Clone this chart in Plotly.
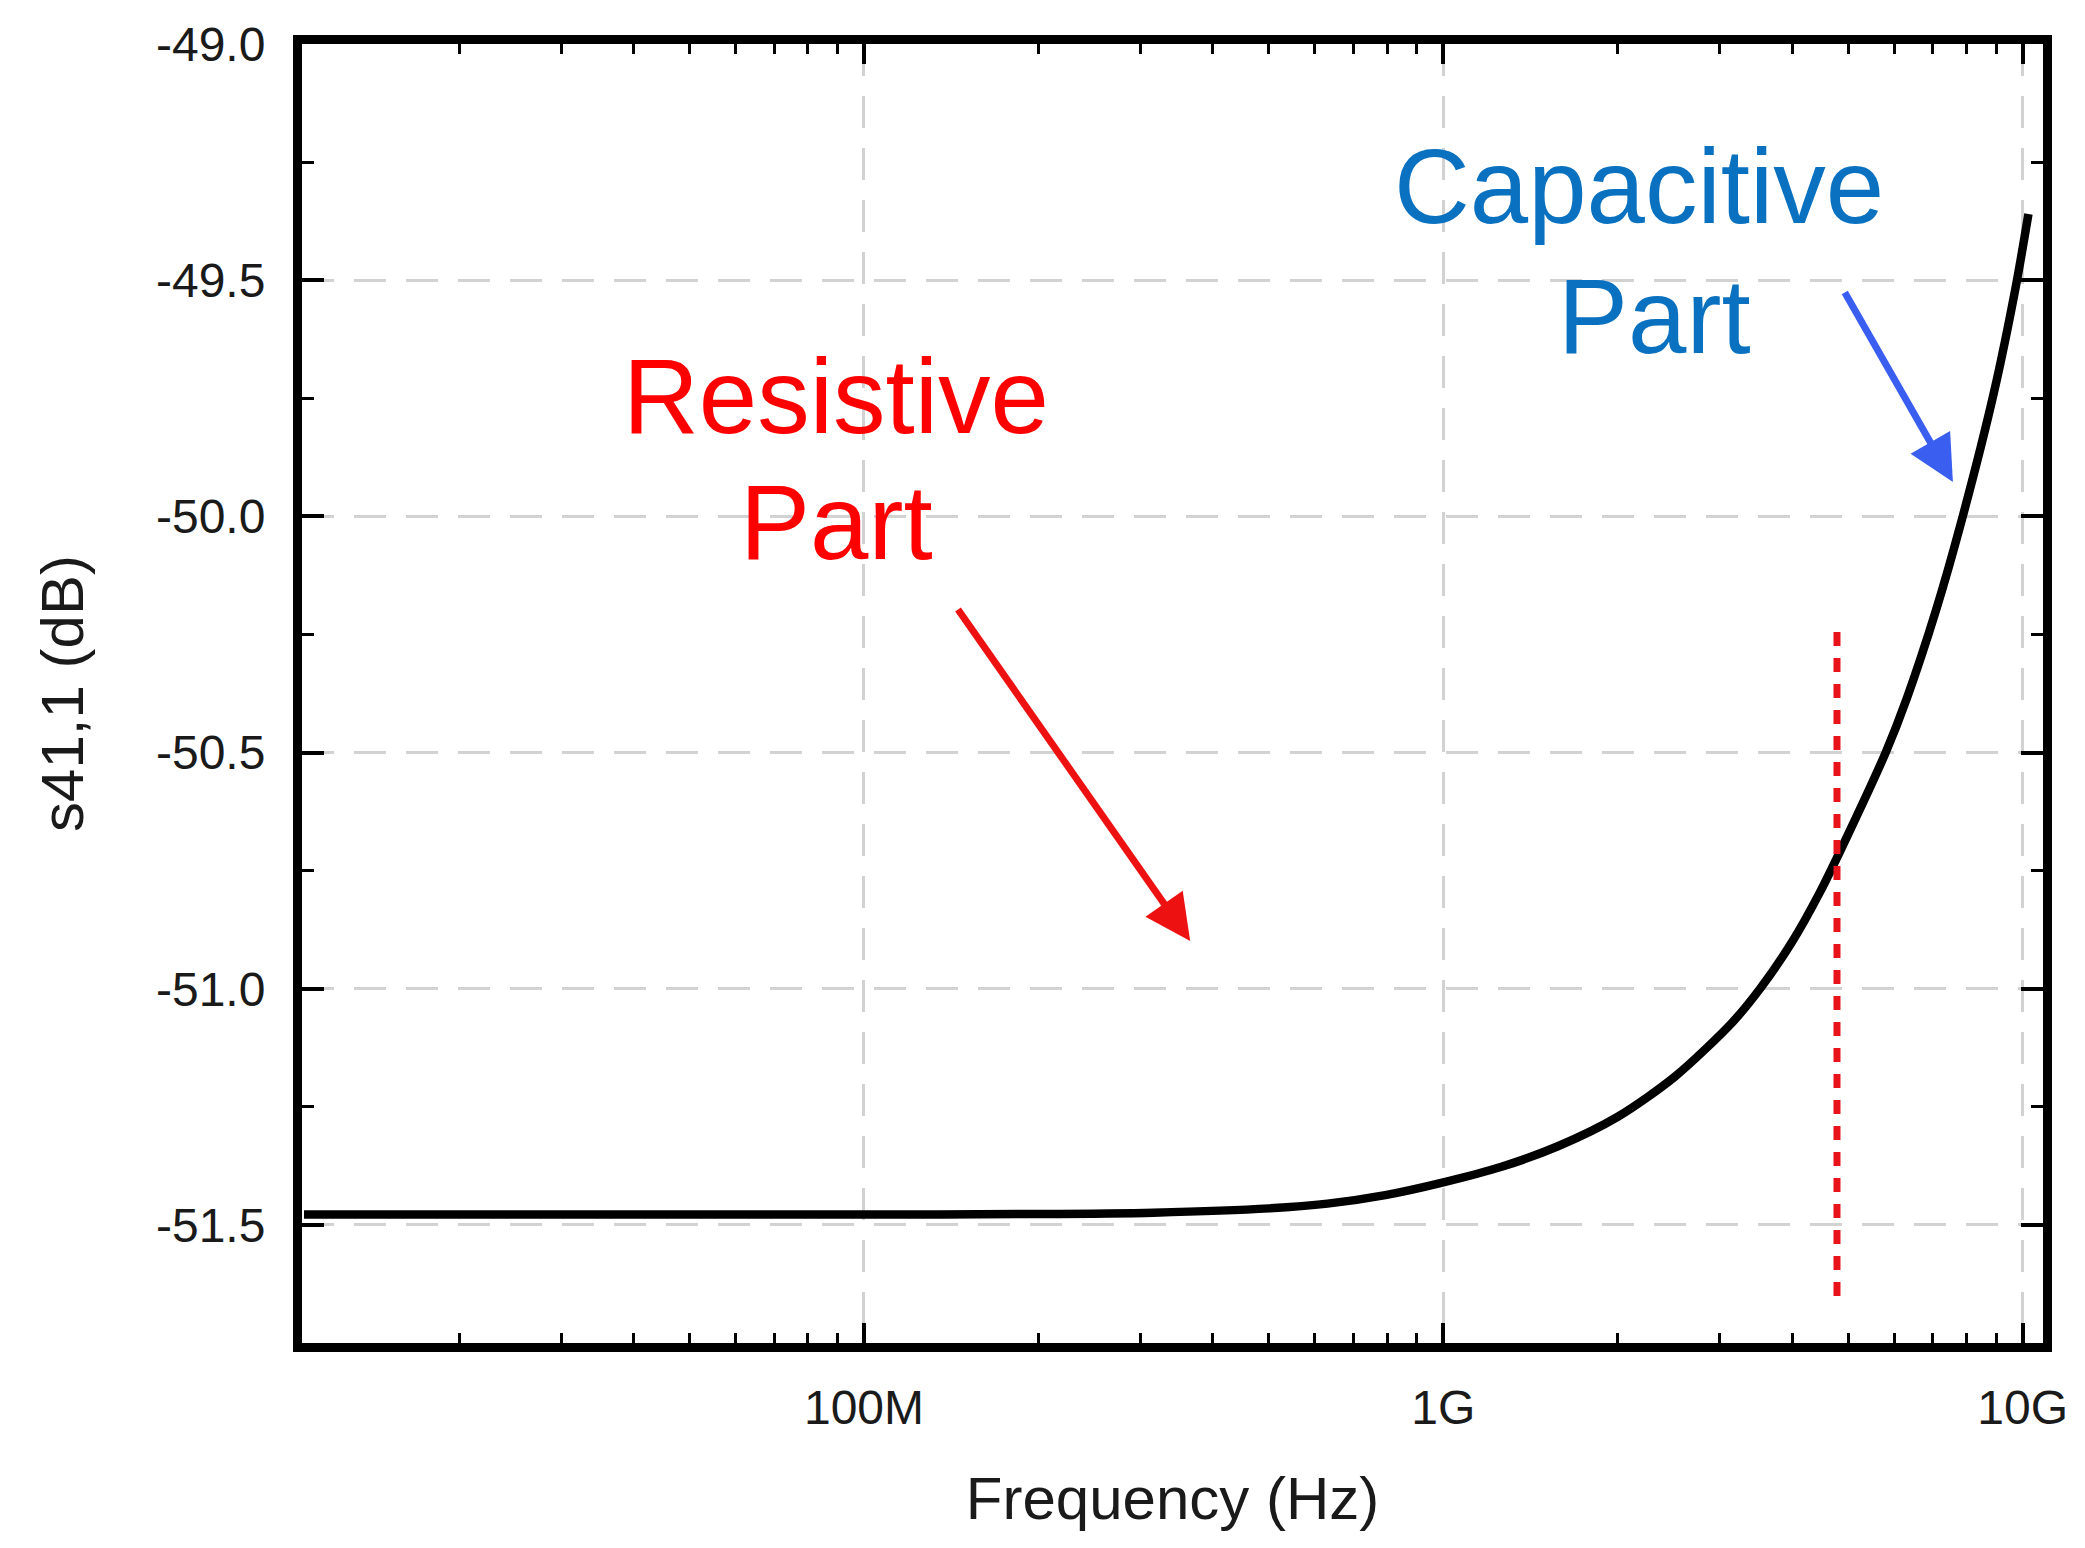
import plotly.graph_objects as go

# ---- data ----
freq_hz = [1.08e7, 3.16e7, 1.0e8, 2.0e8, 3.16e8, 5.01e8, 6.31e8, 7.94e8,
           1.0e9, 1.26e9, 1.58e9, 2.0e9, 2.51e9, 3.16e9, 3.52e9, 3.98e9,
           4.47e9, 5.01e9, 5.8e9, 6.31e9, 7.08e9, 7.82e9, 8.91e9, 9.72e9,
           1.023e10]
s41_db = [-51.478, -51.478, -51.478, -51.477, -51.474, -51.465, -51.455, -51.437,
          -51.41, -51.377, -51.333, -51.271, -51.186, -51.07, -51.0, -50.905,
          -50.795, -50.67, -50.5, -50.385, -50.2, -50.015, -49.74, -49.516,
          -49.36]

marker_freq = [4.78e9, 4.78e9]
marker_db = [-50.245, -51.66]

y_tick_vals = [-49.0, -49.5, -50.0, -50.5, -51.0, -51.5]
y_tick_text = ["-49.0", "-49.5", "-50.0", "-50.5", "-51.0", "-51.5"]

x_title = "Frequency (Hz)"
y_title = "s41,1 (dB)"
resistive_lines = ["Resistive", "Part"]
capacitive_lines = ["Capacitive", "Part"]

FONT = "Liberation Sans, Arial, sans-serif"

fig = go.Figure()
fig.add_trace(go.Scatter(x=freq_hz, y=s41_db, mode="lines",
                         line=dict(color="black", width=8.5, shape="spline", smoothing=0.8),
                         showlegend=False))
fig.add_trace(go.Scatter(x=marker_freq, y=marker_db, mode="lines",
                         line=dict(color="#e8131b", width=7, dash="14px,12px"),
                         showlegend=False))

red = "#ff0000"
blue_txt = "#0a71c1"
blue_arrow = "#3a5ef0"

ann = []
ann.append(dict(x=7.952, y=-49.747, text=resistive_lines[0], showarrow=False,
                font=dict(family=FONT, size=105, color=red), xanchor="center", yanchor="middle"))
ann.append(dict(x=7.952, y=-50.013, text=resistive_lines[1], showarrow=False,
                font=dict(family=FONT, size=105, color=red), xanchor="center", yanchor="middle"))
ann.append(dict(x=9.338, y=-49.302, text=capacitive_lines[0], showarrow=False,
                font=dict(family=FONT, size=105, color=blue_txt), xanchor="center", yanchor="middle"))
ann.append(dict(x=9.365, y=-49.576, text=capacitive_lines[1], showarrow=False,
                font=dict(family=FONT, size=105, color=blue_txt), xanchor="center", yanchor="middle"))
ann.append(dict(x=8.563, y=-50.899, ax=8.1605, ay=-50.194, axref="x", ayref="y",
                text="", showarrow=True, arrowhead=2, arrowsize=1.3, arrowwidth=7,
                arrowcolor="#ee1111", standoff=0))
ann.append(dict(x=9.8795, y=-49.927, ax=9.6914, ay=-49.523, axref="x", ayref="y",
                text="", showarrow=True, arrowhead=2, arrowsize=1.3, arrowwidth=7,
                arrowcolor=blue_arrow, standoff=0))
for a in ann:
    a.setdefault("xref", "x")
    a.setdefault("yref", "y")

grid_color = "#d2d2d2"

fig.update_layout(
    width=2085, height=1548,
    margin=dict(l=302, r=42, t=44, b=205),
    paper_bgcolor="white", plot_bgcolor="white",
    font=dict(family=FONT, color="#1a1a1a"),
    annotations=ann,
    showlegend=False,
)

fig.update_xaxes(
    type="log", range=[7.03, 10.035],
    dtick=1, tickformat="~s",
    showline=True, linecolor="black", linewidth=9, mirror="allticks",
    ticks="inside", ticklen=20, tickwidth=4, tickcolor="black",
    minor=dict(ticks="inside", ticklen=10, tickwidth=3, tickcolor="black",
               dtick="D1", showgrid=False),
    showgrid=True, gridcolor=grid_color, gridwidth=3, griddash="32px,20px",
    zeroline=False,
    tickfont=dict(family=FONT, size=48, color="#1a1a1a"),
    ticklabelstandoff=14,
    title=dict(text=x_title, font=dict(family=FONT, size=60, color="#1a1a1a"), standoff=48),
)
fig.update_yaxes(
    range=[-51.75, -49.0],
    tickmode="array", tickvals=y_tick_vals, ticktext=y_tick_text,
    showline=True, linecolor="black", linewidth=9, mirror="allticks",
    ticks="inside", ticklen=22, tickwidth=4, tickcolor="black",
    minor=dict(tickmode="linear", tick0=-49.0, dtick=0.25,
               ticks="inside", ticklen=12, tickwidth=3, tickcolor="black",
               showgrid=False),
    showgrid=True, gridcolor=grid_color, gridwidth=3, griddash="32px,20px",
    zeroline=False,
    tickfont=dict(family=FONT, size=48, color="#1a1a1a"),
    ticklabelstandoff=18,
    title=dict(text=y_title, font=dict(family=FONT, size=60, color="#1a1a1a"), standoff=56),
)

fig.write_html("out.html")
